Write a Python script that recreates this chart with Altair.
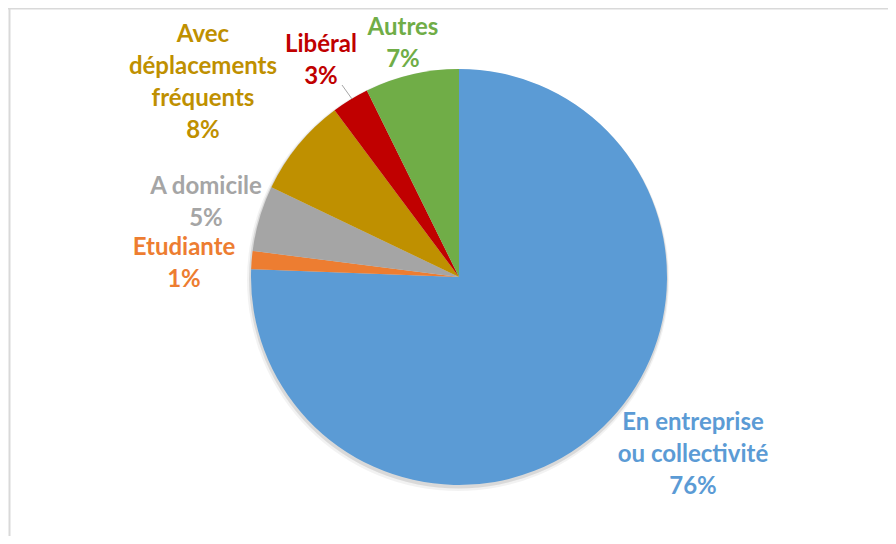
import altair as alt
import pandas as pd

# ---- data ----
categories = ["En entreprise\nou collectivité", "Etudiante", "A domicile",
              "Avec\ndéplacements\nfréquents", "Libéral", "Autres"]
values = [75.6, 1.4, 5.1, 7.7, 2.9, 7.3]
pct_labels = ["76%", "1%", "5%", "8%", "3%", "7%"]

# ---- styles / layout ----
colors = ["#5B9BD5", "#ED7D31", "#A5A5A5", "#BF9000", "#C00000", "#70AD47"]
label_x = [685, 176, 198, 195, 313, 395]
label_y = [415, 240, 179, 27, 37, 20]   # first line of each label
CX, CY, R = 451, 269, 208
W, H = 880, 528

df = pd.DataFrame({
    "cat": categories,
    "value": values,
    "ord": list(range(len(values))),
    "color": colors,
    "label": [c + "\n" + p for c, p in zip(categories, pct_labels)],
    "lx": label_x,
    "ly": label_y,
})

one = pd.DataFrame({"a": [0]})

shadow1 = alt.Chart(one).mark_arc(radius=R + 3, theta=0, theta2=6.2832,
                                  color="#000000", opacity=0.05).encode(
    x=alt.value(CX - 1), y=alt.value(CY + 3))
shadow2 = alt.Chart(one).mark_arc(radius=R + 1.5, theta=0, theta2=6.2832,
                                  color="#000000", opacity=0.10).encode(
    x=alt.value(CX - 0.5), y=alt.value(CY + 2))

pie = alt.Chart(df).mark_arc(radius=R, stroke=None).encode(
    theta=alt.Theta("value:Q", stack=True),
    order=alt.Order("ord:Q", sort="ascending"),
    color=alt.Color("color:N", scale=None),
    x=alt.value(CX),
    y=alt.value(CY),
)

labels = alt.Chart(df).mark_text(
    font="Lato", fontWeight="bold", fontSize=24, lineBreak="\n",
    lineHeight=32, align="center", baseline="middle",
).encode(
    x=alt.X("lx:Q", scale=None),
    y=alt.Y("ly:Q", scale=None),
    text="label:N",
    color=alt.Color("color:N", scale=None),
)

left_line = alt.Chart(one).mark_rule(color="#d9d9d9", strokeWidth=2).encode(
    x=alt.value(1.5), y=alt.value(0), y2=alt.value(H))
top_line = alt.Chart(one).mark_rule(color="#d9d9d9", strokeWidth=2).encode(
    x=alt.value(0), x2=alt.value(W), y=alt.value(0.5))
leader = alt.Chart(one).mark_rule(color="#a6a6a6", strokeWidth=1).encode(
    x=alt.value(334), x2=alt.value(344), y=alt.value(77), y2=alt.value(91))

chart = alt.layer(left_line, top_line, shadow1, shadow2, pie, leader, labels).properties(
    width=W, height=H, padding=0, autosize=alt.AutoSizeParams(type="none"),
    background="white",
).configure_view(stroke=None)

chart.save("out.html", embed_options={"renderer": "svg", "actions": False})
